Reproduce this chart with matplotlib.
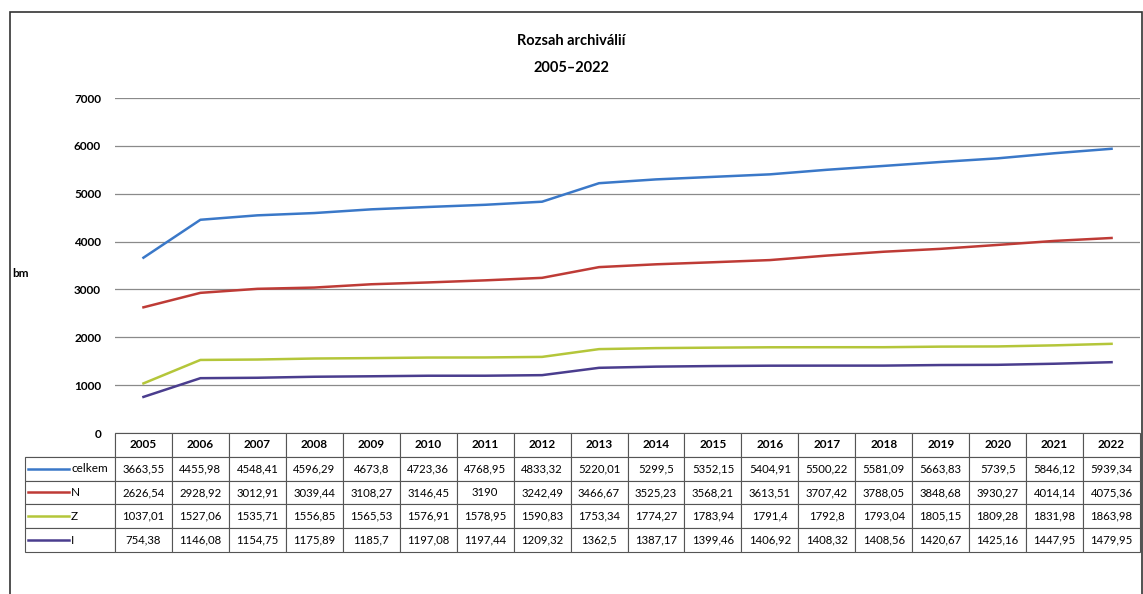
import matplotlib.pyplot as plt
from matplotlib.lines import Line2D
from matplotlib.patches import Rectangle

plt.rcParams['font.family'] = ['Lato', 'DejaVu Sans']

years = [str(y) for y in range(2005, 2023)]
series_names = ['celkem', 'N', 'Z', 'I']
celkem = [3663.55, 4455.98, 4548.41, 4596.29, 4673.8, 4723.36, 4768.95, 4833.32, 5220.01,
          5299.5, 5352.15, 5404.91, 5500.22, 5581.09, 5663.83, 5739.5, 5846.12, 5939.34]
n_vals = [2626.54, 2928.92, 3012.91, 3039.44, 3108.27, 3146.45, 3190, 3242.49, 3466.67,
          3525.23, 3568.21, 3613.51, 3707.42, 3788.05, 3848.68, 3930.27, 4014.14, 4075.36]
z_vals = [1037.01, 1527.06, 1535.71, 1556.85, 1565.53, 1576.91, 1578.95, 1590.83, 1753.34,
          1774.27, 1783.94, 1791.4, 1792.8, 1793.04, 1805.15, 1809.28, 1831.98, 1863.98]
i_vals = [754.38, 1146.08, 1154.75, 1175.89, 1185.7, 1197.08, 1197.44, 1209.32, 1362.5,
          1387.17, 1399.46, 1406.92, 1408.32, 1408.56, 1420.67, 1425.16, 1447.95, 1479.95]
colors = ['#3A78C8', '#BE3B36', '#B4C63A', '#4A3D8E']
y_ticks = [0, 1000, 2000, 3000, 4000, 5000, 6000, 7000]


def fmt(v):
    return f"{v:g}".replace('.', ',')


def main():
    fig = plt.figure(figsize=(11.43, 5.94), dpi=100)
    ax = fig.add_axes([0.1006, 0.271, 0.8968, 0.564])

    all_series = [celkem, n_vals, z_vals, i_vals]
    x = list(range(len(years)))
    for vals, c in zip(all_series, colors):
        ax.plot(x, vals, color=c, linewidth=1.8)

    ax.set_xlim(-0.5, len(years) - 0.5)
    ax.set_ylim(0, 7000)
    ax.set_yticks(y_ticks)
    ax.set_yticklabels([str(t) for t in y_ticks], fontsize=8.5, fontweight='bold')
    ax.tick_params(axis='y', length=0, pad=10)
    ax.set_xticks([])
    ax.grid(axis='y', color='#8a8a8a', linewidth=0.9)
    for s in ax.spines.values():
        s.set_visible(False)
    ax.set_ylabel('bm', rotation=0, fontsize=8.5, fontweight='bold', labelpad=0)
    ax.yaxis.set_label_coords(-0.092, 0.46)

    # data table under the plot
    lab_w = 0.0878
    cell_text = [[''] + years]
    for name, vals in zip(series_names, all_series):
        cell_text.append([''] + [fmt(v) for v in vals])
    col_w = [lab_w] + [1.0 / len(years)] * len(years)
    tab_h = 0.355
    tbl = ax.table(cellText=cell_text, colWidths=col_w, cellLoc='center',
                   bbox=[-lab_w, -tab_h, 1 + lab_w, tab_h])
    tbl.auto_set_font_size(False)
    tbl.set_fontsize(8.2)
    for (r, c), cell in tbl.get_celld().items():
        cell.set_edgecolor('#555555')
        cell.set_linewidth(0.8)
        cell.PAD = 0.02
        if r == 0:
            cell.get_text().set_fontweight('bold')
            cell.get_text().set_fontsize(8.5)
        if r == 0 and c == 0:
            cell.visible_edges = 'BR'

    row_h = tab_h / len(cell_text)
    for k, (name, c) in enumerate(zip(series_names, colors)):
        yc = -tab_h + row_h * (len(series_names) - k - 0.5)
        ax.add_line(Line2D([-lab_w + 0.003, -lab_w + 0.043], [yc, yc], color=c, linewidth=1.8,
                           transform=ax.transAxes, clip_on=False))
        ax.text(-lab_w + 0.045, yc, name, transform=ax.transAxes, fontsize=8.5,
                va='center', ha='left')

    fig.text(0.5, 0.931, 'Rozsah archiválií', ha='center', va='center',
             fontsize=10.5, fontweight='bold')
    fig.text(0.5, 0.886, '2005–2022', ha='center', va='center',
             fontsize=10.5, fontweight='bold')

    fig.patches.append(Rectangle((0.009, -0.01), 0.99, 0.99, transform=fig.transFigure,
                                 fill=False, edgecolor='#333333', linewidth=1.2))

    fig.savefig('out.png', dpi=100)


if __name__ == "__main__":
    main()
